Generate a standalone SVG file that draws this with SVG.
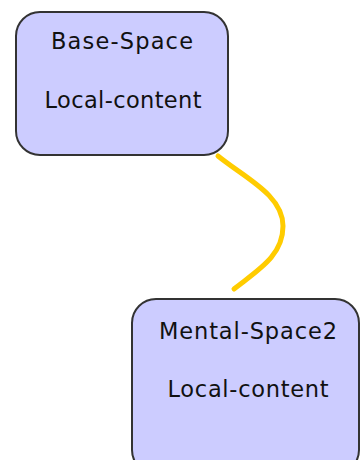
<svg xmlns="http://www.w3.org/2000/svg" width="361" height="460" viewBox="0 0 361 460">
<style>
.node rect{fill:#ccccff;stroke:#333333;stroke-width:2}
.node text{font-family:"DejaVu Sans",sans-serif;font-size:22.5px;fill:#111111;text-anchor:middle}
.edge{fill:none;stroke:#ffcc00;stroke-width:5;stroke-linecap:round}
</style>
<rect width="361" height="460" fill="#ffffff"/>
<g id="connectors">
<path class="edge" d="M218,156 C245,178 283,195 283,226 C283,256 258,270 234,289"/>
</g>
<g id="base-space" class="node">
<rect x="16" y="12" width="212" height="143" rx="24" ry="24"/>
<text x="122" y="49" textLength="142" lengthAdjust="spacing">Base-Space</text>
<text x="123" y="108" textLength="157" lengthAdjust="spacing">Local-content</text>
</g>
<g id="mental-space2" class="node">
<rect x="132" y="299" width="227" height="175" rx="24" ry="24"/>
<text x="248" y="339" textLength="178" lengthAdjust="spacing">Mental-Space2</text>
<text x="248" y="397" textLength="161" lengthAdjust="spacing">Local-content</text>
</g>
</svg>
